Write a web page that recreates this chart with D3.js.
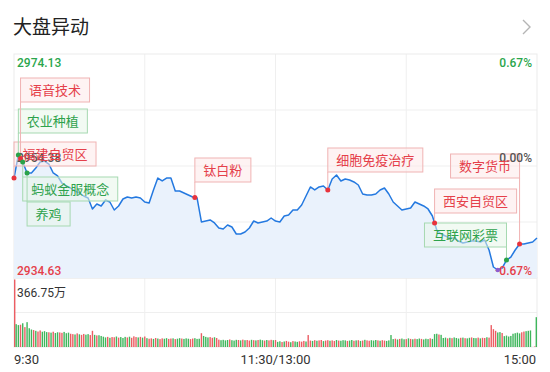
<!DOCTYPE html>
<html><head><meta charset="utf-8">
<script src="https://cdn.jsdelivr.net/npm/d3@7"></script>
<style>
body{margin:0;background:#fff;}
svg{display:block;font-family:Roboto,"Noto Sans CJK SC","Noto Sans",sans-serif;}
</style>
</head><body>
<svg id="chart" width="550" height="372"></svg>
<script>
// ---------------- DATA ----------------
const title = "大盘异动";
const preClose = 2954.38;
const priceTicks = [2974.13, 2954.38, 2934.63];
const pctTicks = ["0.67%", "0.00%", "-0.67%"];
const timeLabels = ["9:30", "11:30/13:00", "15:00"];
const volMaxLabel = "366.75万";
const volMax = 366.75;

// index price, sampled every 2 minutes (0..240 minutes of trading)
const prices = [
2952.26,2956.32,2955.09,2953.15,2953.15,2954.03,2955.09,2955.26,2954.73,2953.15,
2952.62,2951.38,2950.85,2950.50,2949.97,2949.62,2949.09,2948.74,2946.80,2947.68,
2947.33,2948.38,2948.03,2946.62,2947.33,2948.56,2948.91,2948.74,2948.91,2948.74,
2948.03,2947.86,2950.15,2952.26,2951.74,2952.26,2952.26,2949.97,2949.97,2949.62,
2949.27,2948.91,2948.74,2944.51,2944.68,2944.86,2944.33,2943.45,2943.27,2943.98,
2943.62,2942.39,2942.39,2942.74,2943.45,2944.68,2944.33,2944.51,2944.68,2945.21,
2944.68,2944.51,2945.56,2945.74,2946.62,2946.62,2947.50,2949.09,2950.68,2950.15,
2950.68,2950.85,2950.15,2952.09,2952.79,2951.74,2952.09,2951.91,2951.56,2951.03,
2949.44,2949.27,2949.27,2949.44,2950.15,2950.50,2949.44,2948.03,2947.33,2946.62,
2946.80,2946.97,2948.03,2947.68,2947.33,2946.80,2945.56,2943.09,2942.39,2942.04,
2941.68,2941.68,2941.15,2940.80,2940.98,2941.15,2941.15,2940.98,2941.33,2939.57,
2936.57,2936.04,2936.39,2937.80,2938.33,2939.57,2940.63,2940.63,2940.80,2940.98,
2941.68
];

// per-minute volume (万手), 241 minutes
const volumes = [
366.75,124,119,121,129,108,135,102,95,92,
88,84,90,83,86,81,
80,78,83,76,80,79,77,82,75,78,
72,70,68,74,69,66,71,67,70,65,
88,
66,63,64,60,
56,52,55,50,54,53,57,51,54,49,55,52,56,50,58,54,52,55,51,57,
48,45,47,44,49,46,43,47,45,48,44,46,47,43,45,48,46,44,47,45,43,46,48,44,45,
75,
60,55,52,54,50,53,
49,
40,37,39,36,38,41,37,35,39,38,36,40,37,38,35,39,37,36,38,40,37,35,38,36,39,37,38,
28,31,27,30,33,29,26,32,30,28,31,29,33,30,
65,
35,33,37,34,36,38,32,35,37,34,36,33,38,35,34,37,36,33,35,38,34,36,37,33,35,39,36,34,37,35,38,36,34,37,35,33,36,
65,
43,45,41,44,46,42,43,47,44,42,45,43,46,44,41,45,43,47,44,
70,72,68,66,
49,51,47,50,48,52,49,46,50,51,48,47,50,52,49,48,51,47,50,49,53,51,
119,
97,88,79,81,76,
59,62,57,60,
72,75,78,74,80,
84,86,88,90,
0,3,162
];

// bar colour per minute: r = up, g = down
const volDir = [
"rggrgrgggr","grrgggrgrg","grrgggrrgr","grrggrrgrg","gggrgrrgrg",
"ggrgrrrgrg","rgrrgrgrrg","grrgrggrgg","grrgggrggg","rrgrrggggr",
"gggrgrgrrg","rgrggrgrrg","rggrgrrgrg","grrrgrrgrg","rrgrrgrrgr",
"gggrggrgrg","rgrrgggrgr","rggggrgrgg","rgrgrggrgg","grgggrgggr",
"grgggrgrgg","rggrgrrgrr","rrggrggggg","gggrrgggrr","g"
].join("");

// market events: name, minute of trading, type
const eventNames   = ["福建自贸区","农业种植","语音技术","蚂蚁金服概念","养鸡","钛白粉","细胞免疫治疗","西安自贸区","互联网彩票","数字货币"];
const eventMinutes = [0, 2, 3, 4, 6, 83, 144, 193, 226, 232];
const eventTypes   = ["up","down","up","down","down","up","up","up","down","up"];
const extraMarkMinute = 222;

// label layout (annotation placement): box top and which side sits on the anchor
const labelTop  = [142, 109, 78, 177, 202, 158, 148, 189, 223, 154];
const labelSide = ["l","l","l","l","l","l","l","l","r","r"];

// ---------------- CHART ----------------
const svg = d3.select("#chart");
const L = 14, R = 537, PT = 54, PB = 278, VT = 278, VB = 347;

const x = d3.scaleLinear().domain([0, 240]).range([L, R]);
const y = d3.scaleLinear().domain([priceTicks[2], priceTicks[0]]).range([PB, PT]);
const yv = d3.scaleLinear().domain([0, volMax]).range([VB, 279.5]);

const gridC = "#efefef";
const g = svg.append("g");
[60, 120, 180].forEach(m => g.append("line").attr("x1", x(m)).attr("x2", x(m)).attr("y1", PT).attr("y2", VB).attr("stroke", gridC));
[0.25, 0.5, 0.75].forEach(f => {
  const yy = PT + (PB - PT) * f;
  g.append("line").attr("x1", L).attr("x2", R).attr("y1", yy).attr("y2", yy).attr("stroke", gridC);
});
g.append("line").attr("x1", L).attr("x2", R).attr("y1", (VT + VB) / 2).attr("y2", (VT + VB) / 2).attr("stroke", gridC);
g.append("rect").attr("x", L).attr("y", PT).attr("width", R - L).attr("height", PB - PT).attr("fill", "none").attr("stroke", "#ebebeb");
g.append("rect").attr("x", L).attr("y", VT).attr("width", R - L).attr("height", VB - VT).attr("fill", "none").attr("stroke", "#ebebeb");

// title
svg.append("text").attr("x", 13).attr("y", 34).attr("font-size", 19).attr("fill", "#222")
  .attr("font-family", "'Noto Sans CJK SC',sans-serif").text(title);
svg.append("path").attr("d", "M523,20 L530,27 L523,34").attr("fill", "none").attr("stroke", "#b5b5b5").attr("stroke-width", 1.4);

// price series
const pts = prices.map((p, i) => [i * 2, p]);
const area = d3.area().x(d => x(d[0])).y0(PB).y1(d => y(d[1]));
svg.append("path").datum(pts).attr("d", area).attr("fill", "#eaf2fc");
const line = d3.line().x(d => x(d[0])).y(d => y(d[1]));
svg.append("path").datum(pts).attr("d", line).attr("fill", "none").attr("stroke", "#2479e0").attr("stroke-width", 1.5).attr("stroke-linejoin", "round");

function priceAt(m) {
  const k = m / 2, i0 = Math.floor(k), i1 = Math.min(prices.length - 1, i0 + 1), t = k - i0;
  return prices[i0] * (1 - t) + prices[i1] * t;
}

// volume bars
const bw = 1.4;
svg.append("g").selectAll("rect").data(volumes).join("rect")
  .attr("x", (d, i) => Math.min(R - bw, Math.max(L, x(i) - bw / 2)))
  .attr("y", d => yv(d))
  .attr("width", bw)
  .attr("height", d => VB - yv(d))
  .attr("fill", (d, i) => (volDir[i] === "r" ? "#ec5d63" : "#3fb65c"));

svg.append("text").attr("x", 17).attr("y", 297).attr("font-size", 12).attr("fill", "#333")
  .attr("font-family", "Roboto,'Noto Sans CJK SC',sans-serif").text(volMaxLabel);

// time labels
const tAnch = ["start", "middle", "end"], tX = [x(0), x(120), 536];
timeLabels.forEach((t, i) => svg.append("text").attr("x", tX[i]).attr("y", 364).attr("text-anchor", tAnch[i])
  .attr("font-size", 13).attr("fill", "#333").text(t));

// event label boxes and connectors
const sty = {
  up:   {txt: "#e5404a", fill: "rgba(253,234,234,0.55)", stroke: "#f0b3b3", dot: "#e8333c"},
  down: {txt: "#2ea24c", fill: "rgba(231,246,234,0.55)", stroke: "#a6d9b1", dot: "#2aa24a"}
};
const boxLayer = svg.append("g");
const tickLayer = svg.append("g");
const textLayer = svg.append("g");
const dotLayer = svg.append("g");

eventNames.forEach((name, i) => {
  const s = sty[eventTypes[i]];
  const ax = x(eventMinutes[i]), ay = y(priceAt(eventMinutes[i]));
  const t = textLayer.append("text").attr("font-size", 13).attr("fill", s.txt)
    .attr("font-family", "'Noto Sans CJK SC',sans-serif").text(name);
  const tw = t.node().getComputedTextLength();
  const w = tw + 17, h = 24;
  const bx = labelSide[i] === "l" ? ax : ax - w;
  const by = labelTop[i];
  const edgeY = by > ay ? by : by + h;
  boxLayer.append("line").attr("x1", ax).attr("x2", ax).attr("y1", edgeY).attr("y2", ay).attr("stroke", s.stroke).attr("stroke-width", 1);
  boxLayer.append("rect").attr("x", bx).attr("y", by).attr("width", w).attr("height", h).attr("fill", s.fill).attr("stroke", s.stroke);
  t.attr("x", bx + w / 2).attr("y", by + h / 2 + 4.5).attr("text-anchor", "middle");
});

// axis labels in price area (drawn over the boxes, like the reference)
const green = "#2aa64c", red = "#e5404a", gray = "#555";
const tickColors = [green, gray, red];
const tickBase = [67, 162, 275];
priceTicks.forEach((p, i) => {
  tickLayer.append("text").attr("x", 17).attr("y", tickBase[i]).attr("font-size", 12).attr("font-weight", 500).attr("fill", tickColors[i]).text(p.toFixed(2));
  tickLayer.append("text").attr("x", 532).attr("y", tickBase[i]).attr("text-anchor", "end").attr("font-size", 12).attr("font-weight", 500).attr("fill", tickColors[i]).text(pctTicks[i]);
});

eventNames.forEach((name, i) => {
  const s = sty[eventTypes[i]];
  dotLayer.append("circle").attr("cx", x(eventMinutes[i])).attr("cy", y(priceAt(eventMinutes[i]))).attr("r", 2.5).attr("fill", s.dot);
});
dotLayer.append("circle").attr("cx", x(extraMarkMinute)).attr("cy", y(priceAt(extraMarkMinute))).attr("r", 2.3).attr("fill", "#8e5bd0");
</script>
</body></html>
